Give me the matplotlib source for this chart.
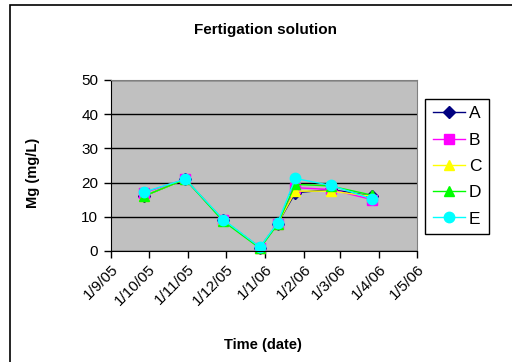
import matplotlib
matplotlib.use("Agg")
import matplotlib.pyplot as plt
import matplotlib.dates as mdates
from matplotlib.patches import Rectangle
import datetime as dt

plt.rcParams['font.family'] = ['Liberation Sans', 'DejaVu Sans']

# Sampling dates and Mg concentrations (mg/L)
sample_dates = ["2005-09-27", "2005-10-30", "2005-11-29", "2005-12-28",
                "2006-01-11", "2006-01-25", "2006-02-22", "2006-03-27"]
mg_A = [16, 21, 9, 1, 8, 17, 18, 16]
mg_B = [17, 21, 9, 1, 8, 18.5, 18, 15]
mg_C = [16, 21, 9, 1, 8, 17.5, 17.5, 16]
mg_D = [16, 21, 8.7, 0.8, 7.8, 19.5, 19, 16.3]
mg_E = [17.2, 21, 9.2, 1.1, 8.2, 21.2, 19.2, 15.2]
series_names = ["A", "B", "C", "D", "E"]

tick_dates = ["2005-09-01", "2005-10-01", "2005-11-01", "2005-12-01", "2006-01-01",
              "2006-02-01", "2006-03-01", "2006-04-01", "2006-05-01"]
tick_labels = ["1/9/05", "1/10/05", "1/11/05", "1/12/05", "1/1/06",
               "1/2/06", "1/3/06", "1/4/06", "1/5/06"]
y_ticks = [0, 10, 20, 30, 40, 50]

styles = [
    dict(color="#000080", marker="D", ms=6),
    dict(color="#FF00FF", marker="s", ms=6.5),
    dict(color="#FFFF00", marker="^", ms=7.5),
    dict(color="#00FF00", marker="^", ms=7.5),
    dict(color="#00FFFF", marker="o", ms=7.5),
]

to_date = lambda s: dt.datetime.strptime(s, "%Y-%m-%d")
x = [to_date(s) for s in sample_dates]
xt = [to_date(s) for s in tick_dates]

fig = plt.figure(figsize=(5.12, 3.62), dpi=100)
fig.patch.set_facecolor("white")
ax = fig.add_axes([110.7 / 512, 1 - 251 / 362, 306 / 512, 171 / 362])
ax.set_facecolor("#C0C0C0")

for name, vals, st in zip(series_names, [mg_A, mg_B, mg_C, mg_D, mg_E], styles):
    ax.plot(x, vals, color=st["color"], marker=st["marker"], markersize=st["ms"],
            markeredgecolor=st["color"], linewidth=1.0, label=name, clip_on=False)

ax.set_xlim(xt[0], xt[-1])
ax.set_ylim(0, 50)
ax.set_yticks(y_ticks)
ax.set_xticks(mdates.date2num(xt))
ax.set_xticklabels(tick_labels, rotation=45, ha="right", rotation_mode="anchor")
ax.tick_params(axis="both", labelsize=11, direction="out", length=5, width=1, color="black")
ax.tick_params(axis="x", pad=3)
ax.tick_params(axis="y", pad=4)
ax.yaxis.grid(True, color="black", linewidth=1)
ax.set_axisbelow(True)
for side in ["left", "bottom"]:
    ax.spines[side].set_color("black")
for side in ["top", "right"]:
    ax.spines[side].set_color("#808080")

fig.text(266 / 512, 1 - 30 / 362, "Fertigation solution", ha="center", va="center",
         fontsize=11, fontweight="bold")
fig.text(33 / 512, 1 - 173 / 362, "Mg (mg/L)", rotation=90, ha="center", va="center",
         fontsize=10.5, fontweight="bold")
fig.text(263 / 512, 1 - 345 / 362, "Time (date)", ha="center", va="center",
         fontsize=10.5, fontweight="bold")

leg = fig.legend(loc="upper left", bbox_to_anchor=(425.3 / 512, 1 - 99 / 362),
                 borderaxespad=0, fontsize=12.5, frameon=True, fancybox=False,
                 edgecolor="black", framealpha=1, handlelength=1.85,
                 handletextpad=0.25, labelspacing=0.64, borderpad=0.42)
leg.get_frame().set_linewidth(1.0)

fig.patches.append(Rectangle((10 / 512, -0.1), 1.2, 1 - 5 / 362 + 0.1,
                             transform=fig.transFigure, fill=False,
                             edgecolor="black", linewidth=1.2))

fig.savefig("out.png", dpi=100)
